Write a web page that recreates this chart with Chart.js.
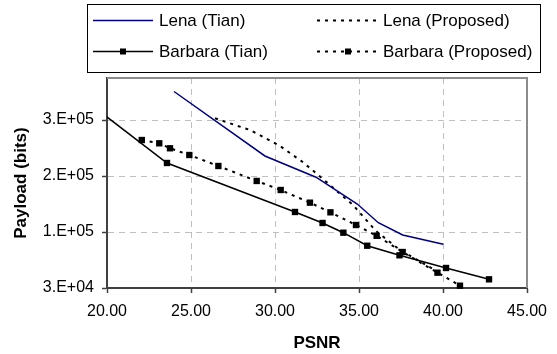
<!DOCTYPE html>
<html lang="en">
<head>
<meta charset="UTF-8">
<title>Payload vs PSNR</title>
<script src="https://cdn.jsdelivr.net/npm/chart.js@4"></script>
<style>
  html, body { margin: 0; padding: 0; background: #fff; }
  #wrap { width: 557px; height: 354px; }
</style>
</head>
<body>
<div id="wrap"><canvas id="payloadChart" width="557" height="354"></canvas></div>
<script>
// PSNR (dB) against embedded payload (bits) for each image / method
const lenaTianPsnr = [23.99, 29.40, 32.44, 34.90, 36.15, 37.60, 40.02];
const lenaTianBits = [310700, 218600, 188300, 150000, 123300, 105700, 92400];

const lenaPropPsnr = [26.43, 28.51, 30.30, 31.61, 32.68, 34.64, 36.01, 37.44, 39.70];
const lenaPropBits = [272400, 255700, 232900, 210700, 189300, 148600, 111400, 84300, 52900];

const barbTianPsnr = [19.50, 23.57, 31.19, 32.83, 34.07, 35.49, 37.41, 40.18, 42.74];
const barbTianBits = [283400, 208600, 138600, 122900, 109000, 90400, 76700, 58600, 42400];

const barbPropPsnr = [22.07, 23.11, 23.75, 24.90, 26.63, 28.91, 30.34, 32.08, 33.30, 34.82, 36.05, 37.60, 39.67, 41.01];
const barbPropBits = [241400, 236700, 229600, 220000, 204300, 182900, 170000, 151900, 138100, 120000, 104600, 81400, 51900, 33300];

// y axis runs 3e4..3.3e5 with a major unit of 8e4, labels in 0.E+00 format
const yTicks = [30000, 110000, 190000, 270000];
const yTickLabels = ['3.E+04', '1.E+05', '2.E+05', '3.E+05'];

const FONT = '"Liberation Sans", Arial, sans-serif';

function points(xs, ys) {
  return xs.map((x, i) => ({ x: x, y: ys[i] }));
}

// plot frame (top/right edges) in the lighter grey
const plotFrame = {
  id: 'plotFrame',
  beforeDatasetsDraw(chart) {
    const { ctx, chartArea: a } = chart;
    ctx.save();
    ctx.strokeStyle = '#8c8c8c';
    ctx.lineWidth = 2;
    ctx.beginPath();
    ctx.moveTo(a.left, a.top);
    ctx.lineTo(a.right, a.top);
    ctx.lineTo(a.right, a.bottom);
    ctx.stroke();
    ctx.restore();
  }
};

// boxed two-column legend above the plot
const legendBox = {
  id: 'legendBox',
  afterDraw(chart) {
    const ctx = chart.ctx;
    const cols = [{ x0: 93, x1: 153, tx: 159 }, { x0: 317, x1: 379, tx: 383 }];
    const rows = [20, 51];
    ctx.save();
    ctx.fillStyle = '#fff';
    ctx.strokeStyle = '#000';
    ctx.lineWidth = 1;
    ctx.fillRect(87.5, 4.5, 453, 68);
    ctx.strokeRect(87.5, 4.5, 453, 68);
    ctx.font = '17px ' + FONT;
    ctx.textBaseline = 'middle';
    chart.data.datasets.forEach((ds, i) => {
      const c = cols[i % 2];
      const y = rows[Math.floor(i / 2)];
      ctx.setLineDash(ds.borderDash || []);
      ctx.strokeStyle = ds.borderColor;
      ctx.lineWidth = ds.borderWidth;
      ctx.beginPath();
      ctx.moveTo(c.x0, y + 0.5);
      ctx.lineTo(c.x1, y + 0.5);
      ctx.stroke();
      ctx.setLineDash([]);
      if (ds.pointRadius > 0) {
        const cx = Math.round((c.x0 + c.x1) / 2);
        ctx.fillStyle = '#000';
        ctx.fillRect(cx - 3, y - 2.5, 6, 6);
      }
      ctx.fillStyle = '#000';
      ctx.fillText(ds.label, c.tx, y + 1);
    });
    ctx.restore();
  }
};

new Chart(document.getElementById('payloadChart'), {
  type: 'scatter',
  data: {
    datasets: [
      {
        label: 'Lena (Tian)',
        data: points(lenaTianPsnr, lenaTianBits),
        showLine: true,
        borderColor: '#000080',
        borderWidth: 1.5,
        pointRadius: 0,
        clip: false
      },
      {
        label: 'Lena (Proposed)',
        data: points(lenaPropPsnr, lenaPropBits),
        showLine: true,
        borderColor: '#000',
        borderWidth: 2,
        borderDash: [3, 5],
        pointRadius: 0,
        clip: false
      },
      {
        label: 'Barbara (Tian)',
        data: points(barbTianPsnr, barbTianBits),
        showLine: true,
        borderColor: '#000',
        backgroundColor: '#000',
        borderWidth: 1.5,
        pointStyle: 'rect',
        pointRadius: 4.5,
        pointBorderWidth: 0
      },
      {
        label: 'Barbara (Proposed)',
        data: points(barbPropPsnr, barbPropBits),
        showLine: true,
        borderColor: '#000',
        backgroundColor: '#000',
        borderWidth: 2,
        borderDash: [3, 5],
        pointStyle: 'rect',
        pointRadius: 4.5,
        pointBorderWidth: 0,
        clip: false
      }
    ]
  },
  options: {
    responsive: false,
    animation: false,
    devicePixelRatio: 1,
    layout: { padding: { left: 0, right: 30, top: 78, bottom: 0 } },
    plugins: {
      legend: { display: false },
      tooltip: { enabled: false }
    },
    scales: {
      x: {
        type: 'linear',
        min: 20,
        max: 45,
        afterFit(scale) { scale.height = 66; },
        ticks: {
          stepSize: 5,
          padding: 9,
          color: '#000',
          font: { family: FONT, size: 16 },
          callback: v => v.toFixed(2)
        },
        grid: {
          color: '#bfbfbf',
          lineWidth: 1,
          tickLength: 5,
          tickColor: '#404040',
          tickWidth: 1.5,
          tickBorderDash: []
        },
        border: { color: '#404040', width: 2, dash: [6, 5] },
        title: {
          display: true,
          text: 'PSNR',
          color: '#000',
          font: { family: FONT, size: 17, weight: 'bold', lineHeight: 1.2 },
          padding: { top: 0, bottom: 0 }
        }
      },
      y: {
        type: 'linear',
        min: 30000,
        max: 330000,
        afterFit(scale) { scale.width = 107; },
        afterBuildTicks(scale) { scale.ticks = yTicks.map(v => ({ value: v })); },
        ticks: {
          padding: 8,
          color: '#000',
          font: { family: FONT, size: 16 },
          callback: (v, i) => yTickLabels[i]
        },
        grid: {
          color: '#bfbfbf',
          lineWidth: 1,
          tickLength: 5,
          tickColor: '#404040',
          tickWidth: 1.5,
          tickBorderDash: []
        },
        border: { color: '#404040', width: 2, dash: [6, 5] },
        title: {
          display: true,
          text: 'Payload (bits)',
          color: '#000',
          font: { family: FONT, size: 17, weight: 'bold', lineHeight: 1.2 },
          padding: { top: 11, bottom: 0 }
        }
      }
    }
  },
  plugins: [plotFrame, legendBox]
});
</script>
</body>
</html>
